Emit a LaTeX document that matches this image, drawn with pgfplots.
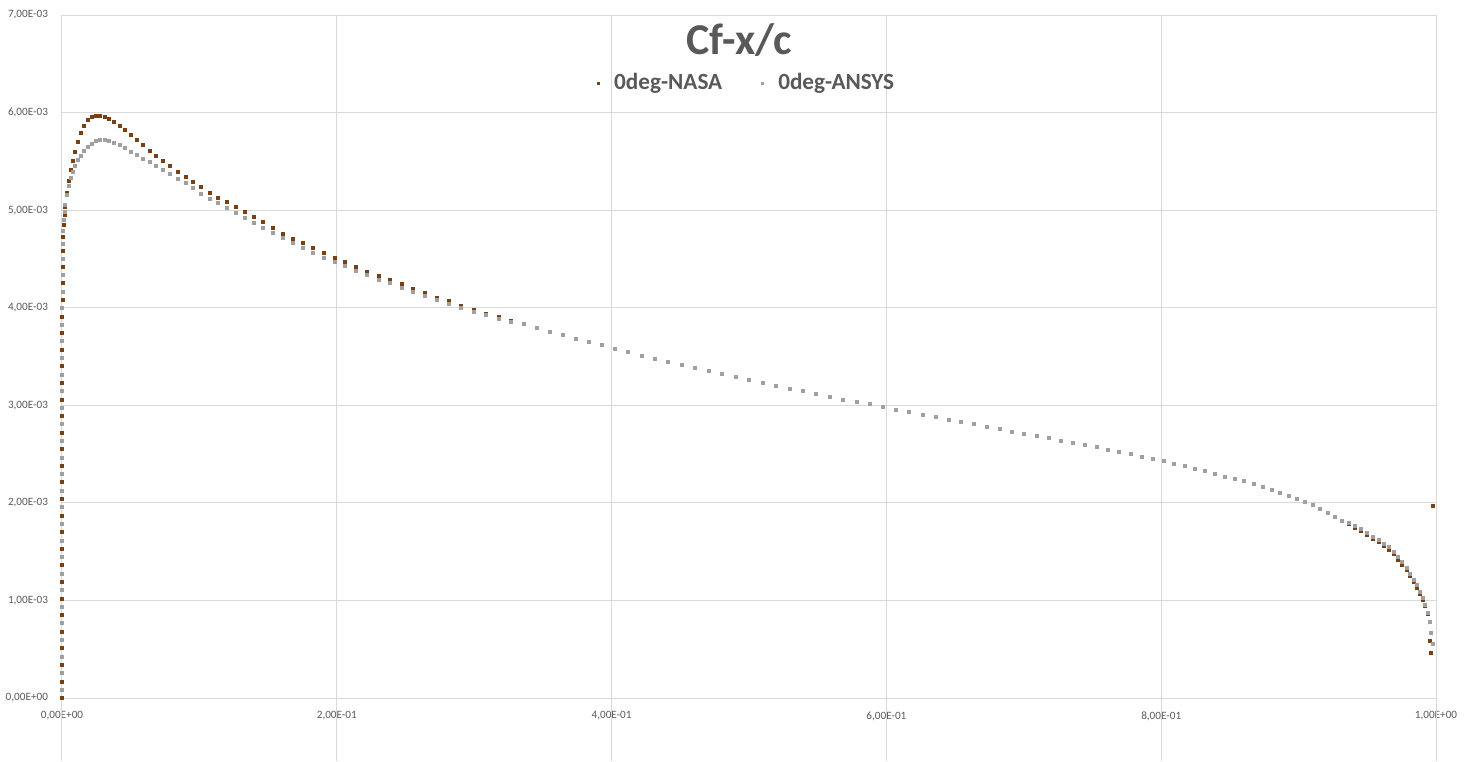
\documentclass[border=0pt]{standalone}
\usepackage{fontspec}
\setmainfont{Carlito}
\usepackage{pgfplots}
\usepackage{pgfplotstable}
\pgfplotsset{compat=1.18}
\definecolor{gridc}{HTML}{D9D9D9}
\definecolor{labelc}{HTML}{595959}
\definecolor{nasac}{HTML}{7B3F14}
\definecolor{ansysc}{HTML}{A0A0A0}
\pgfplotstableread{
x N A
0.00000 0.00000 0.000085
0.00001 0.00017 0.000255
0.00001 0.00034 0.000425
0.00002 0.00051 0.000595
0.00002 0.00068 0.000765
0.00003 0.00085 0.000935
0.00003 0.00102 0.001105
0.00004 0.00119 0.001275
0.00004 0.00136 0.001445
0.00005 0.00153 0.001615
0.00005 0.00170 0.001785
0.00006 0.00187 0.001955
0.00006 0.00204 0.002125
0.00007 0.00221 0.002295
0.00008 0.00238 0.002465
0.00009 0.00255 0.002635
0.00010 0.00272 0.002805
0.00011 0.00289 0.002975
0.00012 0.00306 0.003145
0.00014 0.00323 0.003315
0.00016 0.00340 0.003485
0.00019 0.00357 0.003655
0.00023 0.00374 0.003825
0.00028 0.00391 0.003995
0.00035 0.00408 0.004165
0.00045 0.00425 0.004335
0.00058 0.00442 0.004500
0.00075 0.00458 0.004655
0.00098 0.00473 0.004790
0.00130 0.00485 0.004900
0.00180 0.00495 0.004980
0.00241 0.00503 0.00505
0.00347 0.00518 0.00516
0.00472 0.00530 0.00525
0.00616 0.00541 0.00533
0.00779 0.00550 0.00539
0.00961 0.00560 0.00545
0.01162 0.00570 0.00551
0.01382 0.00579 0.00556
0.01620 0.00586 0.00561
0.01877 0.00592 0.00565
0.02153 0.005955 0.00568
0.02447 0.00597 0.005705
0.02760 0.00597 0.005715
0.03090 0.00596 0.005715
0.03439 0.005935 0.005705
0.03806 0.00590 0.00569
0.04191 0.00586 0.005665
0.04593 0.00582 0.005635
0.05013 0.00577 0.00560
0.05450 0.00572 0.005565
0.05904 0.00567 0.00553
0.06375 0.00561 0.00549
0.06863 0.005555 0.00545
0.07368 0.00550 0.00541
0.07889 0.00545 0.00537
0.08426 0.00539 0.005325
0.08981 0.00534 0.00528
0.09549 0.00529 0.005225
0.10134 0.005235 0.00517
0.10734 0.00518 0.00512
0.11350 0.00513 0.00507
0.11980 0.00508 0.00502
0.12624 0.00503 0.00497
0.13283 0.00498 0.00492
0.13956 0.00493 0.00487
0.14645 0.00488 0.00482
0.15347 0.00482 0.00477
0.16060 0.00476 0.004715
0.16786 0.00471 0.00466
0.17527 0.00466 0.004615
0.18280 0.00461 0.004565
0.19046 0.00456 0.004515
0.19826 0.00451 0.00447
0.20611 0.00447 0.004425
0.21408 0.00442 0.00438
0.22221 0.00437 0.004335
0.23046 0.00433 0.00429
0.23875 0.004285 0.00425
0.24716 0.00424 0.004205
0.25569 0.004195 0.00416
0.26430 0.00415 0.00412
0.27300 0.004105 0.00408
0.28180 0.004065 0.00404
0.29067 0.00402 0.00400
0.29965 0.00398 0.00396
0.30866 0.00394 0.003925
0.31776 0.003905 0.00389
0.32694 0.003865 0.003855
0.33617 0.00383 0.00383
0.34549 0.00379 0.00379
0.35486 0.003755 0.003755
0.36428 0.00372 0.00372
0.37376 0.003685 0.003685
0.38328 0.00365 0.00365
0.39285 0.003615 0.003615
0.40246 0.00358 0.00358
0.41211 0.003545 0.003545
0.42179 0.00351 0.00351
0.43150 0.00348 0.00348
0.44123 0.003445 0.003445
0.45099 0.003415 0.003415
0.46077 0.00338 0.00338
0.47057 0.00335 0.00335
0.48037 0.00332 0.00332
0.49018 0.00329 0.00329
0.50000 0.00326 0.00326
0.50982 0.00323 0.00323
0.51963 0.00320 0.00320
0.52943 0.00317 0.00317
0.53923 0.003145 0.003145
0.54901 0.003115 0.003115
0.55877 0.00309 0.00309
0.56850 0.00306 0.00306
0.57821 0.003035 0.003035
0.58789 0.00301 0.00301
0.59754 0.00298 0.00298
0.60715 0.002955 0.002955
0.61672 0.00293 0.00293
0.62624 0.002905 0.002905
0.63572 0.00288 0.00288
0.64514 0.002855 0.002855
0.65451 0.00283 0.00283
0.66383 0.002805 0.002805
0.67306 0.00278 0.00278
0.68224 0.002755 0.002755
0.69134 0.00273 0.00273
0.70035 0.002705 0.002705
0.70933 0.002685 0.002685
0.71820 0.002665 0.002665
0.72700 0.00264 0.00264
0.73570 0.002615 0.002615
0.74431 0.00259 0.00259
0.75284 0.00257 0.00257
0.76125 0.002545 0.002545
0.76954 0.002525 0.002525
0.77779 0.00250 0.00250
0.78592 0.00247 0.00247
0.79389 0.00245 0.00245
0.80174 0.002425 0.002425
0.80954 0.00240 0.00240
0.81720 0.002375 0.002375
0.82473 0.00235 0.00235
0.83214 0.002325 0.002325
0.83940 0.00230 0.00230
0.84653 0.00227 0.00227
0.85355 0.002245 0.002245
0.86044 0.00222 0.00222
0.86717 0.00219 0.00219
0.87376 0.00216 0.00216
0.88020 0.002135 0.002135
0.88650 0.002105 0.002105
0.89266 0.002075 0.002075
0.89866 0.002045 0.002045
0.90451 0.00201 0.00201
0.91019 0.001975 0.001975
0.91574 0.001935 0.001935
0.92111 0.001895 0.001895
0.92632 0.001855 0.001855
0.93137 0.001815 0.001815
0.93625 0.00178 0.00179
0.94096 0.001745 0.001760
0.94550 0.00171 0.001730
0.94987 0.00167 0.001690
0.95407 0.001635 0.001655
0.95809 0.00160 0.001620
0.96194 0.00156 0.001580
0.96561 0.00152 0.001545
0.96910 0.001475 0.001500
0.97240 0.00142 0.001445
0.97553 0.001365 0.001390
0.97847 0.00131 0.001335
0.98123 0.00125 0.001275
0.98380 0.00119 0.001215
0.98619 0.00113 0.001155
0.98838 0.00107 0.001090
0.99039 0.00101 0.001030
0.99221 0.00094 0.000950
0.99384 0.00086 0.000870
0.99528 0.00059 0.000780
0.99653 0.00046 0.000670
0.99760 0.00197 0.000550
}\cfdata
\begin{document}
\begin{tikzpicture}
\path[use as bounding box] (-31pt,-31.5pt) rectangle (704.5pt,349pt);
\begin{axis}[
  at={(0,0)}, anchor=south west,
  scale only axis, width=687pt, height=341.5pt,
  xmin=0, xmax=1, ymin=0, ymax=0.007,
  xtick={0,0.2,0.4,0.6,0.8,1},
  xticklabels={{0,00E+00},{2,00E-01},{4,00E-01},{6,00E-01},{8,00E-01},{1,00E+00}},
  ytick={0,0.001,0.002,0.003,0.004,0.005,0.006,0.007},
  yticklabels={{0,00E+00},{1,00E-03},{2,00E-03},{3,00E-03},{4,00E-03},{5,00E-03},{6,00E-03},{7,00E-03}},
  scaled x ticks=false, scaled y ticks=false,
  grid=major, major grid style={draw=gridc, line width=0.5pt},
  axis line style={draw=none},
  tick style={draw=none},
  ticklabel style={font=\fontsize{5.6}{6.5}\selectfont, text=labelc},
  xticklabel style={anchor=center, yshift=-9pt},
  yticklabel style={anchor=east, xshift=-3.5pt},
  clip=false,
  title={Cf-x/c},
  title style={at={(0.493,0.945)}, anchor=center, font=\fontsize{22}{26}\selectfont\bfseries, text=labelc},
  legend style={at={(0.499,0.900)}, anchor=center, draw=none, fill=none,
    font=\fontsize{11.6}{13}\selectfont\bfseries, text=labelc,
    /tikz/every odd column/.append style={column sep=5.5pt},
    /tikz/every even column/.append style={column sep=17.5pt}},
  legend columns=2,
  legend image code/.code={\draw[mark size=0.5pt,#1] plot coordinates {(0pt,0pt)};},
]
\draw[gridc, line width=0.5pt] (axis cs:0,0) -- ++(0pt,-31.5pt);
\draw[gridc, line width=0.5pt] (axis cs:0.2,0) -- ++(0pt,-31.5pt);
\draw[gridc, line width=0.5pt] (axis cs:0.4,0) -- ++(0pt,-31.5pt);
\draw[gridc, line width=0.5pt] (axis cs:0.6,0) -- ++(0pt,-31.5pt);
\draw[gridc, line width=0.5pt] (axis cs:0.8,0) -- ++(0pt,-31.5pt);
\draw[gridc, line width=0.5pt] (axis cs:1,0) -- ++(0pt,-31.5pt);
\addplot[only marks, mark=square*, mark size=0.75pt, color=nasac] table[x=x, y=N] {\cfdata};
\addlegendentry{0deg-NASA}
\addplot[only marks, mark=square*, mark size=0.75pt, color=ansysc] table[x=x, y=A] {\cfdata};
\addlegendentry{0deg-ANSYS}
\end{axis}
\end{tikzpicture}
\end{document}
